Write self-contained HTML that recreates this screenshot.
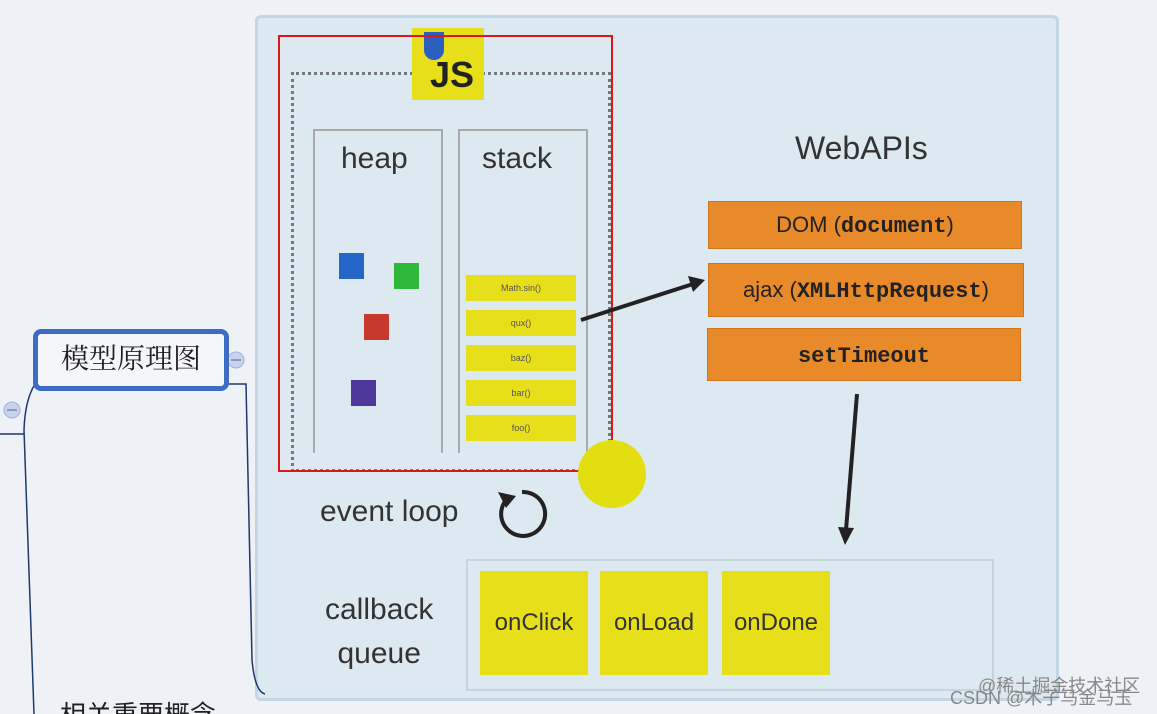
<!DOCTYPE html>
<html style="overflow:hidden;width:1157px;height:714px"><head><meta charset="utf-8"><style>
body{margin:0;width:1157px;height:714px;background:#eef2f7;position:relative;overflow:hidden;font-family:"Liberation Sans","Noto Sans CJK SC",sans-serif}
.a{position:absolute}
.y{background:#e6df1a;position:absolute}
.s{position:absolute;left:466px;width:110px;height:26px;background:#e6df1a;font-size:9px;color:#555;text-align:center;line-height:26px}
.o{position:absolute;background:#e98a2a;border:1px solid #d27518;color:#222;font-size:22px;text-align:center}
.cb{position:absolute;top:571px;width:108px;height:104px;background:#e6df1a;font-size:24px;color:#333;text-align:center;line-height:104px}
</style></head><body>
<div class="a" style="left:255px;top:15px;width:798px;height:680px;background:#dde9f1;border:3px solid #c3d6e3;border-radius:6px"></div>
<div class="a" style="left:291px;top:72px;width:314px;height:394px;border:3px dotted #777"></div>
<div class="a" style="left:313px;top:129px;width:126px;height:322px;border:2px solid #aaa;border-bottom:none"></div>
<div class="a" style="left:458px;top:129px;width:126px;height:322px;border:2px solid #aaa;border-bottom:none"></div>
<div class="a" style="left:341px;top:142px;font-size:30px;color:#333">heap</div>
<div class="a" style="left:482px;top:142px;font-size:30px;color:#333">stack</div>
<div class="a" style="left:339px;top:253px;width:25px;height:26px;background:#2566c9"></div>
<div class="a" style="left:394px;top:263px;width:25px;height:26px;background:#2eb93c"></div>
<div class="a" style="left:364px;top:314px;width:25px;height:26px;background:#c7392c"></div>
<div class="a" style="left:351px;top:380px;width:25px;height:26px;background:#50379c"></div>
<div class="s" style="top:275px">Math.sin()</div>
<div class="s" style="top:310px">qux()</div>
<div class="s" style="top:345px">baz()</div>
<div class="s" style="top:380px">bar()</div>
<div class="s" style="top:415px">foo()</div>
<div class="y" style="left:412px;top:28px;width:72px;height:72px"></div>
<div class="a" style="left:430px;top:54px;font-size:36px;font-weight:bold;color:#222">JS</div>
<div class="a" style="left:424px;top:32px;width:20px;height:28px;background:#2a5fbf;border-radius:0 0 10px 10px"></div>
<div class="a" style="left:278px;top:35px;width:331px;height:433px;border:2px solid #d8191b"></div>
<div class="a" style="left:578px;top:440px;width:68px;height:68px;border-radius:50%;background:#e2de10"></div>
<div class="a" style="left:795px;top:130px;font-size:32px;color:#333">WebAPIs</div>
<div class="o" style="left:708px;top:201px;width:312px;height:46px;line-height:46px">DOM (<b style="font-family:'Liberation Mono',monospace">document</b>)</div>
<div class="o" style="left:708px;top:263px;width:314px;height:52px;line-height:52px">ajax (<b style="font-family:'Liberation Mono',monospace">XMLHttpRequest</b>)</div>
<div class="o" style="left:707px;top:328px;width:312px;height:51px;line-height:51px"><b style="font-family:'Liberation Mono',monospace">setTimeout</b></div>
<div class="a" style="left:320px;top:495px;font-size:30px;color:#333">event loop</div>
<div class="a" style="left:325px;top:588px;font-size:30px;color:#333;text-align:center;line-height:44px">callback<br>queue</div>
<div class="a" style="left:466px;top:559px;width:524px;height:128px;border:2px solid #c8d4dc"></div>
<div class="cb" style="left:480px">onClick</div>
<div class="cb" style="left:600px">onLoad</div>
<div class="cb" style="left:722px">onDone</div>
<svg class="a" style="left:0;top:0" width="1157" height="714">
<line x1="581" y1="320" x2="693" y2="284" stroke="#222" stroke-width="4"/>
<polygon points="705,280 688,276 693,292" fill="#222"/>
<line x1="857" y1="394" x2="846" y2="530" stroke="#222" stroke-width="4"/>
<polygon points="845,545 838,527 854,528" fill="#222"/>
<path d="M508 498 A22 22 0 1 0 522 492" fill="none" stroke="#222" stroke-width="4"/>
<polygon points="498,492 516,496 506,508" fill="#222"/>
<path d="M35 384 Q25 400 24 430 L34 714" fill="none" stroke="#1d3a6a" stroke-width="1.5"/>
<path d="M225 384 L246 384 L252 660 Q255 692 265 694" fill="none" stroke="#1d3a6a" stroke-width="1.5"/>
<line x1="0" y1="434" x2="24" y2="434" stroke="#1d3a6a" stroke-width="1.5"/>
<circle cx="12" cy="410" r="8" fill="#c8d4ee" stroke="#9fb2dc"/>
<line x1="7" y1="410" x2="17" y2="410" stroke="#567"/>
<circle cx="236" cy="360" r="8" fill="#c8d4ee" stroke="#9fb2dc"/>
<line x1="231" y1="360" x2="241" y2="360" stroke="#567"/>
</svg>
<div class="a" style="left:33px;top:329px;width:186px;height:52px;border:5px solid #3d6cc4;border-radius:8px;background:#f4f6fa;font-size:28px;color:#222;text-align:center;line-height:52px;font-family:'Liberation Serif','Noto Serif CJK SC',serif">模型原理图</div>
<div class="a" style="left:60px;top:700px;height:14px;overflow:hidden;font-size:26px;line-height:30px;color:#222">相关重要概念</div>
<div class="a" style="left:978px;top:672px;font-size:18px;color:#888">@稀土掘金技术社区</div>
<div class="a" style="left:950px;top:684px;font-size:18px;color:#888">CSDN @木子马金马玉</div>
</body></html>
